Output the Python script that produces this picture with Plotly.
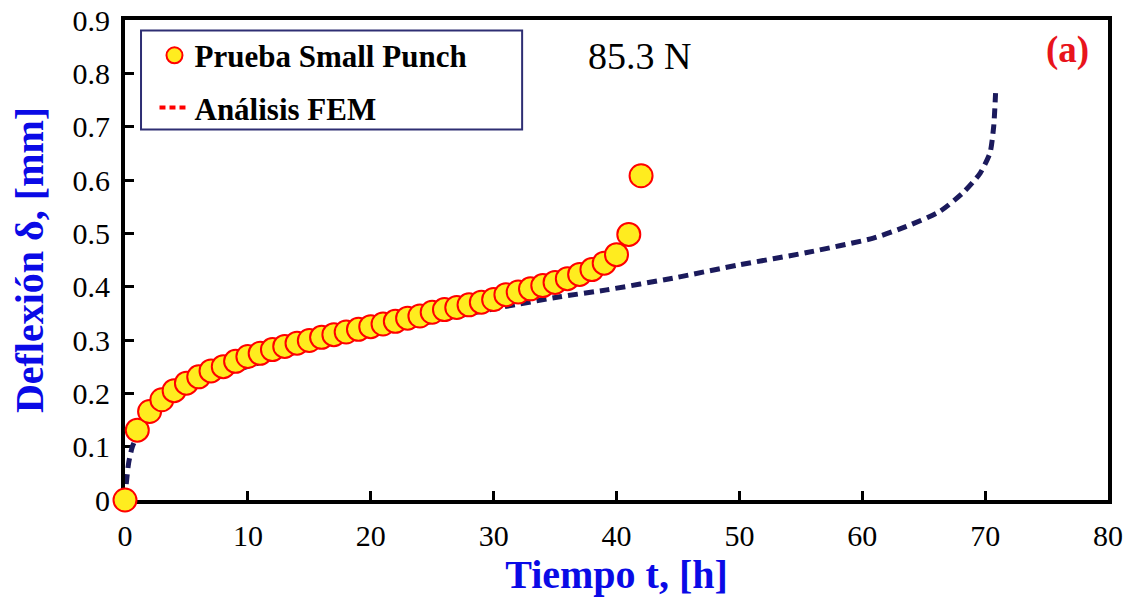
import plotly.graph_objects as go

# Small Punch creep test: deflection vs time (85.3 N)
t_exp = list(range(0, 43))
d_exp = [0.000, 0.131, 0.166, 0.188, 0.205, 0.219, 0.231, 0.242, 0.250, 0.260,
         0.269, 0.275, 0.282, 0.288, 0.294, 0.299, 0.305, 0.310, 0.315, 0.320,
         0.325, 0.330, 0.335, 0.341, 0.345, 0.352, 0.357, 0.361, 0.366, 0.371,
         0.376, 0.385, 0.390, 0.396, 0.402, 0.408, 0.415, 0.423, 0.432, 0.444,
         0.460, 0.498, 0.608]

# FEM simulation curve
t_fem = [0.0, 0.1, 0.3, 0.6, 1.0, 2.0, 3.0, 5.0, 8.0, 12.0, 16.0, 20.0, 25.0,
         30.8, 35.4, 39.2, 44.6, 50.0, 55.5, 60.9, 63.6, 66.3, 68.2, 69.6,
         70.4, 70.7, 70.85]
d_fem = [0.000, 0.030, 0.070, 0.100, 0.120, 0.155, 0.175, 0.205, 0.235, 0.265,
         0.290, 0.310, 0.335, 0.362, 0.381, 0.394, 0.416, 0.441, 0.464, 0.491,
         0.513, 0.541, 0.576, 0.613, 0.651, 0.701, 0.763]

x_ticks = [0, 10, 20, 30, 40, 50, 60, 70, 80]
y_ticks = [0, 0.1, 0.2, 0.3, 0.4, 0.5, 0.6, 0.7, 0.8, 0.9]

SERIF = "Liberation Serif"
NAVY = "#1b1a5c"

fig = go.Figure()

fig.add_trace(go.Scatter(
    x=t_fem, y=d_fem, mode="lines", showlegend=False,
    line=dict(color=NAVY, width=5, dash="10px,6px", shape="spline", smoothing=0.6),
    hoverinfo="skip",
))

fig.add_trace(go.Scatter(
    x=t_exp, y=d_exp, mode="markers", name="Prueba Small Punch",
    legendgroup="a", cliponaxis=False,
    marker=dict(symbol="circle", size=23, color="#ffec1f",
                line=dict(color="#ff0000", width=2)),
))

# legend entry for the FEM curve
fig.add_trace(go.Scatter(
    x=[None], y=[None], mode="lines", name="Análisis FEM",
    legendgroup="b",
    line=dict(color="#ff0000", width=4, dash="6px,4px"),
))

fig.update_layout(
    width=1127, height=599,
    margin=dict(l=125, r=19, t=20, b=99, autoexpand=False),
    paper_bgcolor="white", plot_bgcolor="white",
    font=dict(family=SERIF, color="black", size=30),
    showlegend=True,
    legend=dict(
        x=0.03, y=0.982, xanchor="left", yanchor="top",
        bgcolor="rgba(0,0,0,0)", borderwidth=0,
        font=dict(family=SERIF, size=31, color="black", weight="bold"),
        tracegroupgap=9, traceorder="grouped", itemwidth=30,
    ),
    shapes=[dict(
        type="rect", xref="paper", yref="paper",
        x0=0.0163, x1=0.404, y0=0.772, y1=0.978,
        line=dict(color="#2e2e73", width=2), fillcolor="rgba(0,0,0,0)",
    )],
    annotations=[
        dict(text="85.3 N", xref="paper", yref="paper", x=0.523, y=0.925,
             xanchor="center", yanchor="middle",
             showarrow=False, font=dict(family=SERIF, size=38, color="black")),
        dict(text="<b>(a)</b>", xref="paper", yref="paper", x=0.959, y=0.937,
             xanchor="center", yanchor="middle",
             showarrow=False, font=dict(family=SERIF, size=37, color="#e8141c")),
    ],
)

fig.update_xaxes(
    range=[0, 80], tickvals=x_ticks, ticktext=[str(v) for v in x_ticks],
    showgrid=False, zeroline=False, automargin=False,
    showline=True, linecolor="black", linewidth=4, mirror=True,
    ticks="inside", ticklen=9, tickwidth=3, tickcolor="black",
    layer="below traces",
    tickfont=dict(family=SERIF, size=30, color="black"),
    ticklabelstandoff=6,
    title=dict(text="<b>Tiempo t, [h]</b>", standoff=10,
               font=dict(family=SERIF, size=40, color="#0a0ae6")),
)
fig.update_yaxes(
    range=[0, 0.9], tickvals=y_ticks, ticktext=["0"] + [f"{v:.1f}" for v in y_ticks[1:]],
    showgrid=False, zeroline=False, automargin=False,
    showline=True, linecolor="black", linewidth=4, mirror=True,
    ticks="inside", ticklen=9, tickwidth=3, tickcolor="black",
    layer="below traces",
    tickfont=dict(family=SERIF, size=30, color="black"),
    ticklabelstandoff=5,
    title=dict(text="<b>Deflexión δ, [mm]</b>", standoff=18,
               font=dict(family=SERIF, size=40, color="#0a0ae6")),
)

fig.write_html("out.html")
